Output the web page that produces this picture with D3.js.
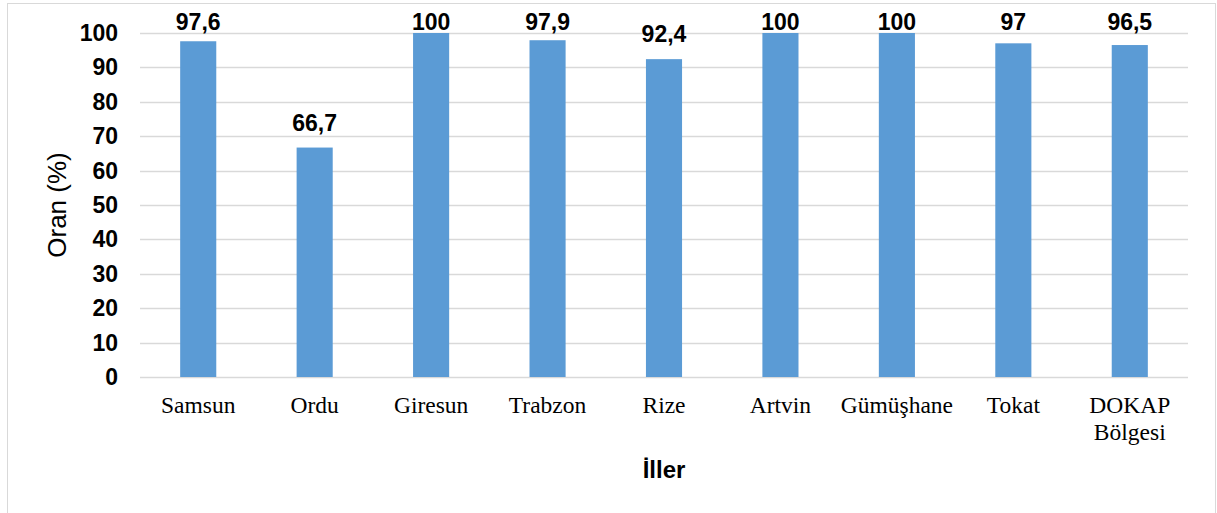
<!DOCTYPE html>
<html>
<head>
<meta charset="utf-8">
<script src="https://cdn.jsdelivr.net/npm/d3@7"></script>
<style>
  body { margin: 0; background: #fff; }
</style>
</head>
<body>
<script>
const width = 1217;
const height = 513;

const provinces = ["Samsun", "Ordu", "Giresun", "Trabzon", "Rize", "Artvin", "Gümüşhane", "Tokat", "DOKAP Bölgesi"];
const rates = [97.6, 66.7, 100, 97.9, 92.4, 100, 100, 97, 96.5];
const yTicks = [0, 10, 20, 30, 40, 50, 60, 70, 80, 90, 100];

const data = provinces.map((name, i) => ({ name, value: rates[i] }));

const margin = { top: 33, right: 29, bottom: 136, left: 140 };

const svg = d3.select("body")
  .append("svg")
  .attr("width", width)
  .attr("height", height);

// chart border
svg.append("rect")
  .attr("x", 7.5)
  .attr("y", 3.5)
  .attr("width", 1208)
  .attr("height", 520)
  .attr("fill", "none")
  .attr("stroke", "#d9d9d9");

const x = d3.scaleBand()
  .domain(provinces)
  .range([margin.left, width - margin.right])
  .paddingInner(0.69)
  .paddingOuter(0.345);

const y = d3.scaleLinear()
  .domain([0, 100])
  .range([height - margin.bottom, margin.top]);

// gridlines
svg.append("g")
  .selectAll("line")
  .data(yTicks)
  .join("line")
  .attr("x1", margin.left)
  .attr("x2", width - margin.right)
  .attr("y1", d => Math.round(y(d)) + 0.5)
  .attr("y2", d => Math.round(y(d)) + 0.5)
  .attr("stroke", "#d9d9d9")
  .attr("stroke-width", 1.5);

// y tick labels
svg.append("g")
  .selectAll("text")
  .data(yTicks)
  .join("text")
  .attr("x", 118)
  .attr("y", d => y(d))
  .attr("dy", "0.35em")
  .attr("text-anchor", "end")
  .attr("font-family", "Liberation Sans, Arial, sans-serif")
  .attr("font-weight", "bold")
  .attr("font-size", 23)
  .attr("fill", "#000")
  .text(d => d);

// bars
svg.append("g")
  .selectAll("rect")
  .data(data)
  .join("rect")
  .attr("x", d => x(d.name))
  .attr("y", d => y(d.value))
  .attr("width", x.bandwidth())
  .attr("height", d => y(0) - y(d.value))
  .attr("fill", "#5b9bd5");

// value labels - pushed down when they would leave the top of the chart
svg.append("g")
  .selectAll("text")
  .data(data)
  .join("text")
  .attr("x", d => x(d.name) + x.bandwidth() / 2)
  .attr("y", d => Math.max(y(d.value) - 17, 29.5))
  .attr("text-anchor", "middle")
  .attr("font-family", "Liberation Sans, Arial, sans-serif")
  .attr("font-weight", "bold")
  .attr("font-size", 23)
  .attr("fill", "#000")
  .text(d => String(d.value).replace(".", ","));

// category labels (wrap two-word label)
const catLabels = svg.append("g")
  .selectAll("text")
  .data(data)
  .join("text")
  .attr("x", d => x(d.name) + x.bandwidth() / 2)
  .attr("y", 413)
  .attr("text-anchor", "middle")
  .attr("font-family", "Liberation Serif, Times New Roman, serif")
  .attr("font-size", 23.5)
  .attr("fill", "#000");

catLabels.each(function(d) {
  const words = d.name.split(" ");
  const t = d3.select(this);
  words.forEach((w, i) => {
    t.append("tspan")
      .attr("x", x(d.name) + x.bandwidth() / 2)
      .attr("dy", i === 0 ? 0 : 27)
      .text(w);
  });
});

// axis titles
svg.append("text")
  .attr("x", (margin.left + width - margin.right) / 2)
  .attr("y", 478)
  .attr("text-anchor", "middle")
  .attr("font-family", "Liberation Sans, Arial, sans-serif")
  .attr("font-weight", "bold")
  .attr("font-size", 24)
  .attr("fill", "#000")
  .text("İller");

svg.append("text")
  .attr("transform", `translate(66, ${(margin.top + height - margin.bottom) / 2}) rotate(-90)`)
  .attr("text-anchor", "middle")
  .attr("font-family", "Liberation Sans, Arial, sans-serif")
  .attr("font-size", 26)
  .attr("fill", "#000")
  .text("Oran (%)");
</script>
</body>
</html>
